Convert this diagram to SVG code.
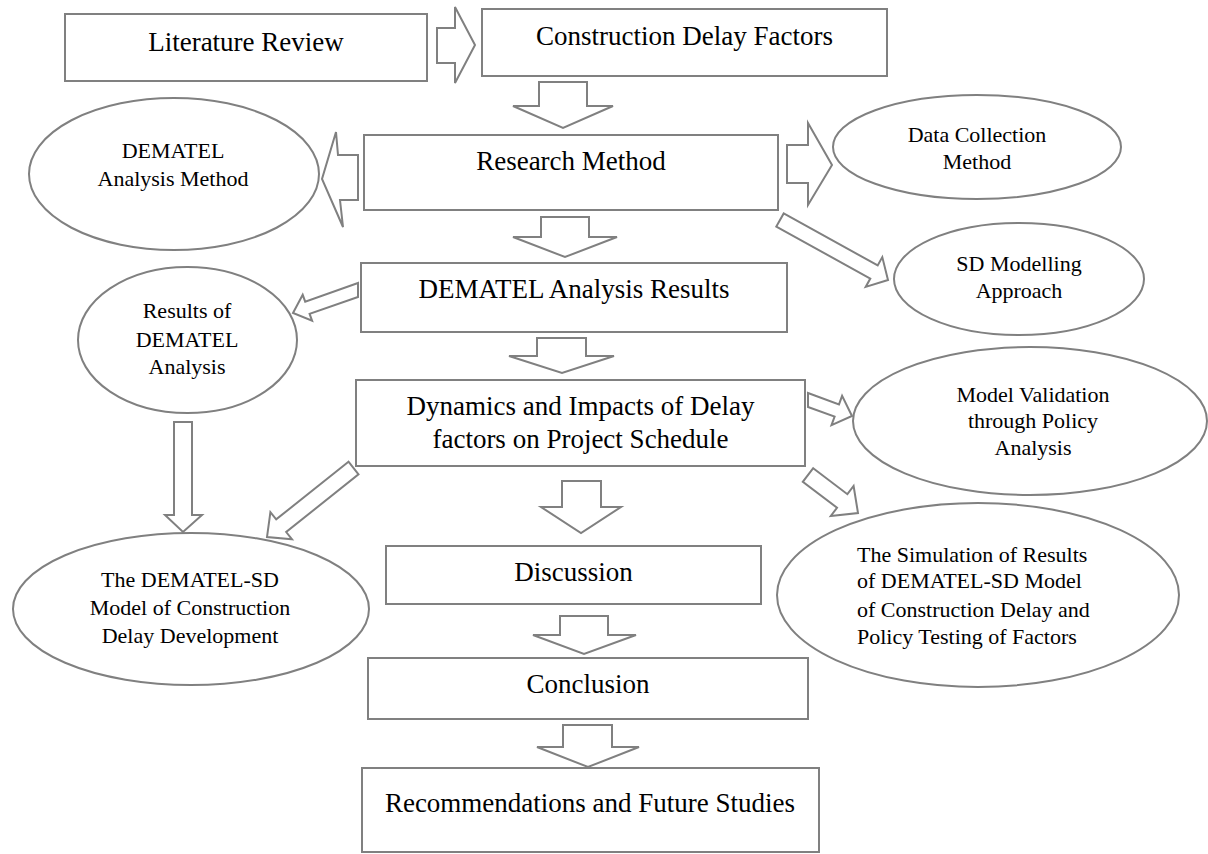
<svg xmlns="http://www.w3.org/2000/svg" width="1208" height="854" viewBox="0 0 1208 854">
<style>
  .box{fill:#fff;stroke:#808080;stroke-width:2}
  .ell{fill:#fff;stroke:#808080;stroke-width:2}
  .arr{fill:#fff;stroke:#808080;stroke-width:2;stroke-linejoin:miter}
  .bt{font-family:"Liberation Serif","Times New Roman",serif;font-size:27px;fill:#000;text-anchor:middle}
  .et{font-family:"Liberation Serif","Times New Roman",serif;font-size:22px;fill:#000;text-anchor:middle}
  .el{font-family:"Liberation Serif","Times New Roman",serif;font-size:22px;fill:#000}
</style>
<rect width="1208" height="854" fill="#fff"/>
<g id="connectors">
  <polygon class="arr" points="437,28 455,28 455,7 475,45 455,83 455,63 437,63"/>
  <polygon class="arr" points="539,82 587,82 587,106 613,106 563,128 513,106 539,106"/>
  <polygon class="arr" points="358,155 338,155 336,132 322,179 343,227 340,200 358,200"/>
  <polygon class="arr" points="787,145 808,145 808,123 832,165 808,205 808,183 787,183"/>
  <polygon class="arr" points="541,217 589,217 589,237 617,237 565,257 513,237 541,237"/>
  <polygon class="arr" points="783.7,213.4 877.7,265.4 882.3,257.1 888,280 865.7,286.9 870.3,278.6 776.3,226.6"/>
  <polygon class="arr" points="358,283 305.2,301.7 302.7,294.8 293,313 312.1,320.8 309.6,313.9 358,297"/>
  <polygon class="arr" points="537,338 586,338 586,356 614,356 562,373 509,356 537,356"/>
  <polygon class="arr" points="808,393 839,404.4 842.1,395.9 852,416 831.5,425.1 834.6,416.6 808,407"/>
  <polygon class="arr" points="174,422 192,422 192,515 202,515 183,532 165,515 174,515"/>
  <polygon class="arr" points="348.5,461.7 276.2,519.4 270.4,512.1 267,537 292,539.3 286.2,532 358.5,474.3"/>
  <polygon class="arr" points="813.2,468.2 847.4,494.2 853.6,486 858,513 830.8,516 837,507.8 802.8,481.8"/>
  <polygon class="arr" points="562,481 601,481 601,507 621,507 581,533 541,507 562,507"/>
  <polygon class="arr" points="560,616 608,616 608,635 636,635 584,654 533,635 560,635"/>
  <polygon class="arr" points="563,725 612,725 612,747 639,747 588,767 537,747 563,747"/>
</g>
<g id="literature-review">
  <rect class="box" x="65" y="14" width="362" height="67"/>
  <text class="bt" x="246" y="51">Literature Review</text>
</g>
<g id="construction-delay-factors">
  <rect class="box" x="482" y="9" width="405" height="67"/>
  <text class="bt" x="684.5" y="45">Construction Delay Factors</text>
</g>
<g id="research-method">
  <rect class="box" x="364" y="135" width="414" height="75"/>
  <text class="bt" x="571" y="170">Research Method</text>
</g>
<g id="dematel-analysis-method">
  <ellipse class="ell" cx="174" cy="174" rx="145" ry="76"/>
  <text class="et" x="173" y="158">DEMATEL</text>
  <text class="et" x="173" y="186">Analysis Method</text>
</g>
<g id="data-collection-method">
  <ellipse class="ell" cx="977" cy="147" rx="144" ry="52"/>
  <text class="et" x="977" y="142">Data Collection</text>
  <text class="et" x="977" y="169">Method</text>
</g>
<g id="dematel-analysis-results">
  <rect class="box" x="361" y="263" width="426" height="69"/>
  <text class="bt" x="574" y="298">DEMATEL Analysis Results</text>
</g>
<g id="sd-modelling-approach">
  <ellipse class="ell" cx="1019" cy="279" rx="125" ry="56"/>
  <text class="et" x="1019" y="271">SD Modelling</text>
  <text class="et" x="1019" y="298">Approach</text>
</g>
<g id="results-of-dematel-analysis">
  <ellipse class="ell" cx="187.5" cy="340" rx="109.5" ry="73"/>
  <text class="et" x="187" y="318">Results of</text>
  <text class="et" x="187" y="347">DEMATEL</text>
  <text class="et" x="187" y="374">Analysis</text>
</g>
<g id="dynamics-and-impacts">
  <rect class="box" x="356" y="380" width="449" height="86"/>
  <text class="bt" x="580.5" y="415">Dynamics and Impacts of Delay</text>
  <text class="bt" x="580.5" y="448">factors on Project Schedule</text>
</g>
<g id="model-validation">
  <ellipse class="ell" cx="1030" cy="421" rx="177" ry="74"/>
  <text class="et" x="1033" y="402">Model Validation</text>
  <text class="et" x="1033" y="428">through Policy</text>
  <text class="et" x="1033" y="455">Analysis</text>
</g>
<g id="dematel-sd-model">
  <ellipse class="ell" cx="191" cy="609" rx="178" ry="76"/>
  <text class="et" x="190" y="587">The DEMATEL-SD</text>
  <text class="et" x="190" y="615">Model of Construction</text>
  <text class="et" x="190" y="643">Delay Development</text>
</g>
<g id="simulation-results">
  <ellipse class="ell" cx="978" cy="595" rx="201" ry="92"/>
  <text class="el" x="857" y="562">The Simulation of Results</text>
  <text class="el" x="857" y="588">of DEMATEL-SD Model</text>
  <text class="el" x="857" y="617">of Construction Delay and</text>
  <text class="el" x="857" y="644">Policy Testing of Factors</text>
</g>
<g id="discussion">
  <rect class="box" x="386" y="546" width="375" height="58"/>
  <text class="bt" x="573.5" y="581">Discussion</text>
</g>
<g id="conclusion">
  <rect class="box" x="368" y="658" width="440" height="61"/>
  <text class="bt" x="588" y="693">Conclusion</text>
</g>
<g id="recommendations">
  <rect class="box" x="362" y="768" width="457" height="84"/>
  <text class="bt" x="590" y="812">Recommendations and Future Studies</text>
</g>
</svg>
